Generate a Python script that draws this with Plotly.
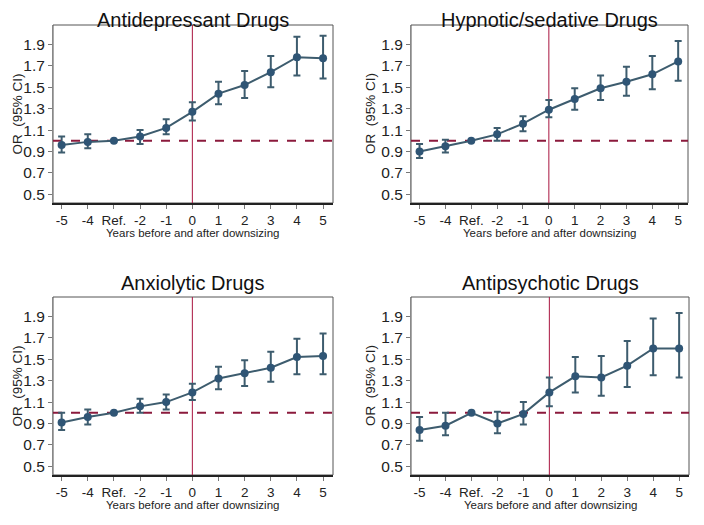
import plotly.graph_objects as go

years = [-5, -4, -3, -2, -1, 0, 1, 2, 3, 4, 5]
tick_labels = ["-5", "-4", "Ref.", "-2", "-1", "0", "1", "2", "3", "4", "5"]
y_ticks = [0.5, 0.7, 0.9, 1.1, 1.3, 1.5, 1.7, 1.9]

titles = ["Antidepressant Drugs", "Hypnotic/sedative Drugs", "Anxiolytic Drugs", "Antipsychotic Drugs"]

antidep_or = [0.96, 0.99, 1.00, 1.04, 1.12, 1.27, 1.44, 1.52, 1.64, 1.78, 1.77]
antidep_lo = [0.89, 0.93, None, 0.97, 1.06, 1.19, 1.34, 1.40, 1.50, 1.61, 1.58]
antidep_hi = [1.04, 1.06, None, 1.10, 1.20, 1.36, 1.55, 1.65, 1.79, 1.97, 1.98]

hypno_or = [0.90, 0.95, 1.00, 1.06, 1.16, 1.29, 1.39, 1.49, 1.55, 1.62, 1.74]
hypno_lo = [0.84, 0.89, None, 1.00, 1.09, 1.22, 1.29, 1.38, 1.42, 1.48, 1.56]
hypno_hi = [0.97, 1.01, None, 1.12, 1.23, 1.38, 1.49, 1.61, 1.69, 1.79, 1.93]

anxio_or = [0.91, 0.96, 1.00, 1.06, 1.10, 1.19, 1.32, 1.37, 1.42, 1.52, 1.53]
anxio_lo = [0.84, 0.89, None, 1.00, 1.03, 1.12, 1.22, 1.25, 1.29, 1.36, 1.36]
anxio_hi = [1.00, 1.03, None, 1.13, 1.17, 1.27, 1.43, 1.49, 1.57, 1.69, 1.74]

antipsy_or = [0.84, 0.88, 1.00, 0.90, 0.99, 1.19, 1.34, 1.33, 1.44, 1.60, 1.60]
antipsy_lo = [0.74, 0.79, None, 0.81, 0.89, 1.06, 1.19, 1.16, 1.24, 1.35, 1.33]
antipsy_hi = [0.96, 1.00, None, 1.01, 1.10, 1.33, 1.52, 1.53, 1.67, 1.88, 1.93]

series = [
    (antidep_or, antidep_lo, antidep_hi),
    (hypno_or, hypno_lo, hypno_hi),
    (anxio_or, anxio_lo, anxio_hi),
    (antipsy_or, antipsy_lo, antipsy_hi),
]

W, H = 704, 525
OFF = 8  # page body margin offset
# panel pixel boxes in screen coords: (left, right, top, bottom)
boxes = [(53, 333, 25, 203), (411, 688, 25, 203), (53, 333, 297, 475), (411, 689, 297, 475)]

LINE_C = "#3d5c6e"
MARK_C = "#2f5575"
REF_C = "#8b1a3c"
VERT_C = "#a8143f"
FONT = "Arial, Liberation Sans, sans-serif"

fig = go.Figure()
shapes = []
annotations = []

for i, ((orv, lo, hi), box) in enumerate(zip(series, boxes)):
    n = i + 1
    xa = "x" if n == 1 else f"x{n}"
    ya = "y" if n == 1 else f"y{n}"
    plus = [0 if h is None else round(h - o, 4) for o, h in zip(orv, hi)]
    minus = [0 if l is None else round(o - l, 4) for o, l in zip(orv, lo)]
    fig.add_trace(go.Scatter(
        x=years, y=orv, mode="lines+markers", xaxis=xa, yaxis=ya,
        line=dict(color=LINE_C, width=2),
        marker=dict(color=MARK_C, size=8),
        error_y=dict(type="data", symmetric=False, array=plus, arrayminus=minus,
                     color=LINE_C, thickness=2, width=3.5),
        showlegend=False,
    ))
    l, r, t, b = [v - OFF for v in box]
    xd = [l / W, r / W]
    yd = [1 - b / H, 1 - t / H]
    axn = "" if n == 1 else str(n)
    fig.layout[f"xaxis{axn}"] = dict(
        domain=xd, anchor=ya, range=[-5.33, 5.38],
        tickmode="array", tickvals=years, ticktext=tick_labels,
        ticks="outside", ticklen=4, tickcolor="#777",
        showgrid=False, zeroline=False,
        showline=True, linecolor="#222", linewidth=2,
        tickfont=dict(family=FONT, size=13.5, color="#222"),
    )
    fig.layout[f"yaxis{axn}"] = dict(
        domain=yd, anchor=xa, range=[0.42, 2.08],
        tickmode="array", tickvals=y_ticks, ticktext=[f"{v:.1f}" for v in y_ticks],
        ticks="outside", ticklen=4, tickcolor="#777",
        showgrid=False, zeroline=False,
        showline=True, linecolor="#888", linewidth=1,
        tickfont=dict(family=FONT, size=15.5, color="#222"),
    )
    # frame
    shapes.append(dict(type="rect", xref=f"{xa} domain", yref=f"{ya} domain",
                       x0=0, x1=1, y0=0, y1=1, line=dict(color="#555", width=1), layer="below"))
    # reference line at OR = 1
    shapes.append(dict(type="line", xref=f"{xa} domain", yref=ya, x0=0, x1=1, y0=1.0, y1=1.0,
                       line=dict(color=REF_C, width=2, dash="dash"), layer="below"))
    # vertical line at year 0
    shapes.append(dict(type="line", xref=xa, yref=f"{ya} domain", x0=0, x1=0, y0=0, y1=1,
                       line=dict(color=VERT_C, width=1), layer="below"))
    # title
    cx = (l + r) / 2
    if t < 100:
        ty, tanchor = 1.0, "top"
    else:
        ty, tanchor = 1 - (t - 14) / H, "middle"
    annotations.append(dict(text=titles[i], xref="paper", yref="paper",
                            x=cx / W, y=ty, xanchor="center", yanchor=tanchor,
                            borderpad=0,
                            showarrow=False, font=dict(family=FONT, size=20, color="#111")))
    # x axis title
    annotations.append(dict(text="Years before and after downsizing", xref="paper", yref="paper",
                            x=(l + r) / 2 / W, y=1 - (b + 30) / H, xanchor="center", yanchor="middle",
                            showarrow=False, font=dict(family=FONT, size=11.5, color="#222")))
    # y axis title
    if l < 100:
        yx, yxa = 0.0, "left"
    else:
        yx, yxa = (l - 41) / W, "center"
    annotations.append(dict(text="OR  (95% CI)", xref="paper", yref="paper",
                            x=yx, y=1 - ((t + b) / 2) / H, xanchor=yxa, yanchor="middle",
                            textangle=-90, showarrow=False, borderpad=0,
                            font=dict(family=FONT, size=13.5, color="#222")))

fig.update_layout(
    width=W, height=H,
    margin=dict(l=0, r=0, t=0, b=0),
    paper_bgcolor="white", plot_bgcolor="white",
    shapes=shapes, annotations=annotations,
)

fig.write_html("out.html")
